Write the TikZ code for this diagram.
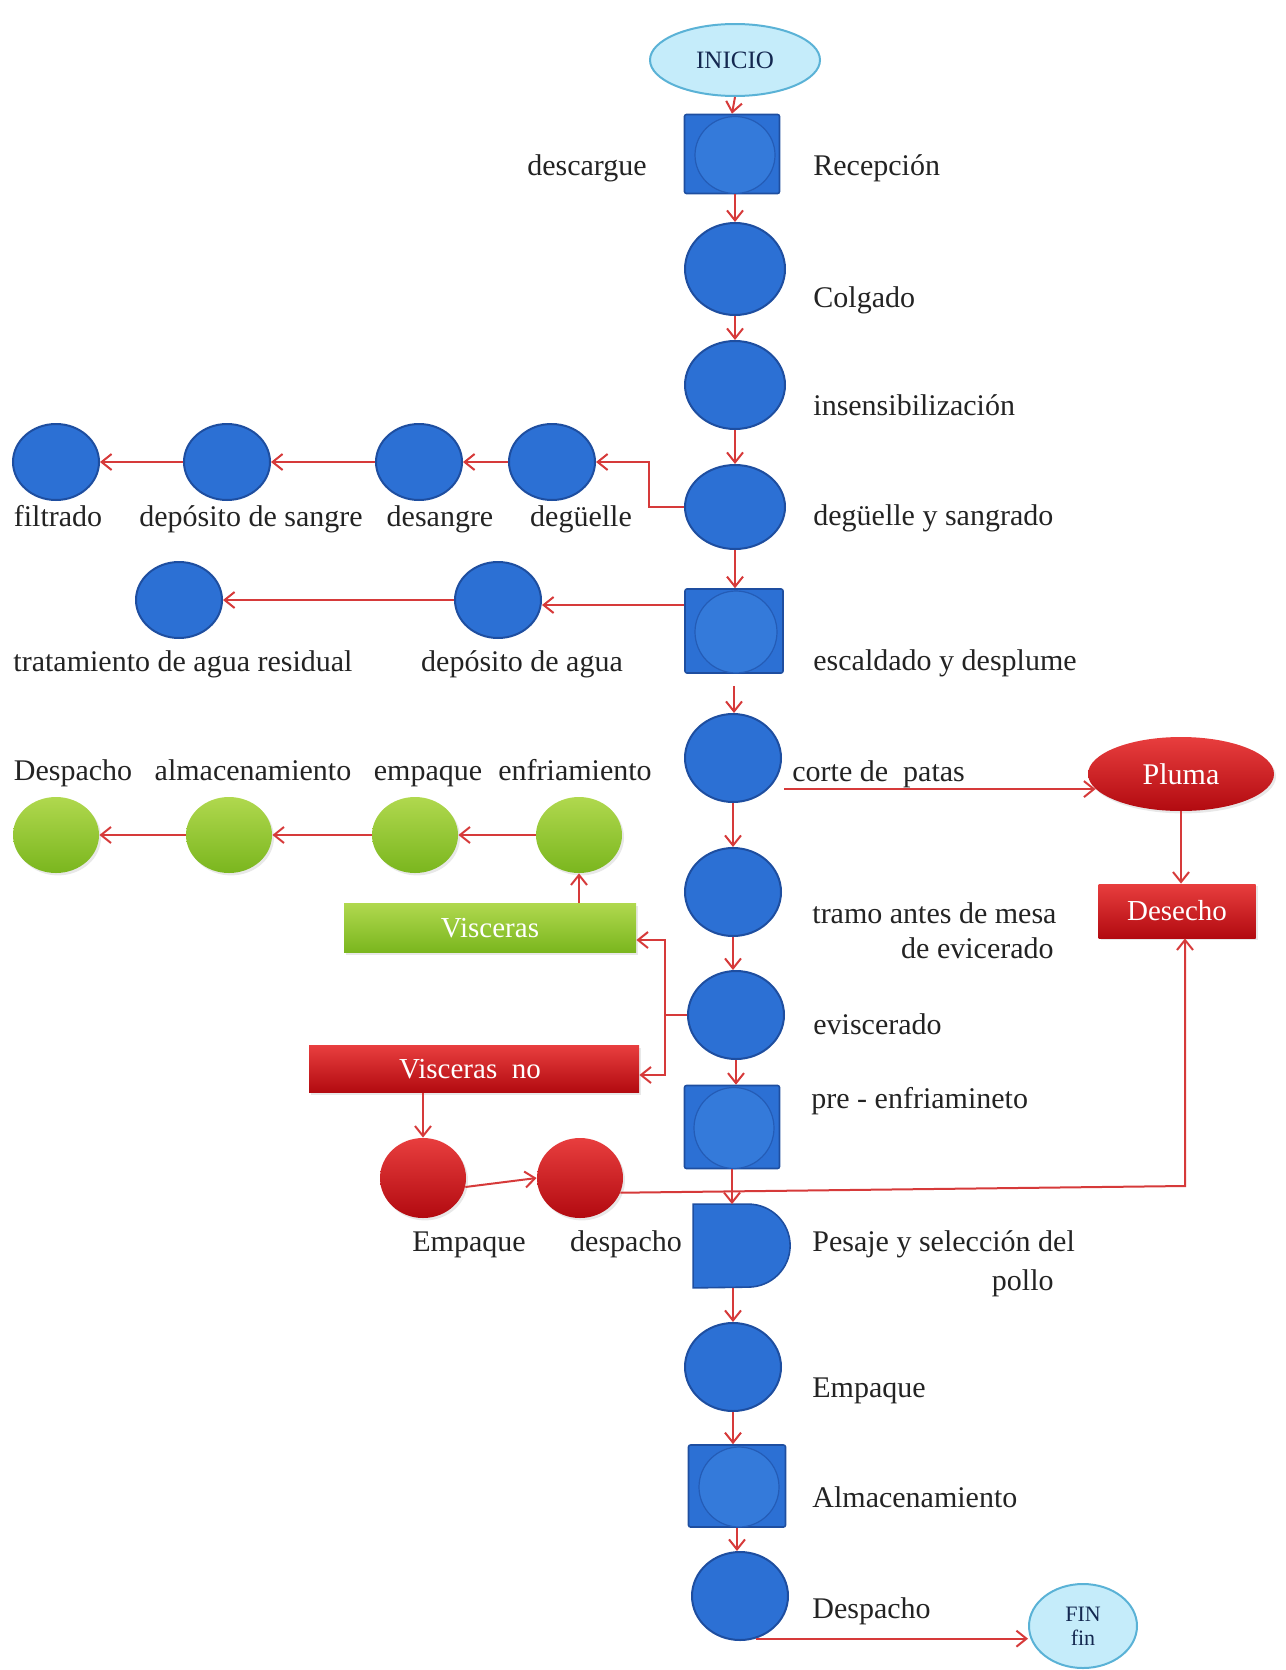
\documentclass[tikz,border=0pt]{standalone}
\usepackage{fontspec}
\setmainfont{Liberation Serif}
\usetikzlibrary{arrows.meta,shapes.geometric,calc,shadows}
\definecolor{bluF}{RGB}{44,112,212}
\definecolor{bluD}{RGB}{30,78,160}
\definecolor{bluI}{RGB}{52,122,218}
\definecolor{bluIB}{RGB}{36,92,182}
\definecolor{cyF}{RGB}{197,236,250}
\definecolor{cyD}{RGB}{90,178,214}
\definecolor{cyT}{RGB}{20,40,80}
\definecolor{lineR}{RGB}{214,58,58}
\definecolor{txtC}{RGB}{35,35,35}
\definecolor{grT}{RGB}{176,216,78}
\definecolor{grB}{RGB}{122,182,30}
\definecolor{rdT}{RGB}{232,62,62}
\definecolor{rdB}{RGB}{178,10,16}
\begin{document}
\begin{tikzpicture}[x=0.5pt,y=-0.5pt,
  arr/.style={draw=lineR, line width=1pt, -{Straight Barb[length=5pt,width=8pt,line width=1pt]}},
  ln/.style={draw=lineR, line width=1pt},
  lbl/.style={inner sep=0pt, font=\fontsize{15}{18}\selectfont, text=txtC, text height=10.5pt, text depth=3.2pt, yshift=-1.5pt},
  bcirc/.style={ellipse, fill=bluF, draw=bluD, line width=1pt, minimum width=48pt, minimum height=44pt, inner sep=0pt},
  scirc/.style={bcirc, minimum width=43pt, minimum height=38pt},
  bsq/.style={rectangle, fill=bluF, draw=bluD, line width=0.8pt, rounded corners=1pt, minimum width=48pt, minimum height=41pt, inner sep=0pt},
  inell/.style={ellipse, fill=bluI, draw=bluIB, line width=0.6pt, inner sep=0pt},
  cyell/.style={ellipse, fill=cyF, draw=cyD, line width=1pt, inner sep=0pt, text=cyT},
  shd/.style={drop shadow={opacity=0.18, shadow xshift=1pt, shadow yshift=-1.2pt}},
  gcirc/.style={ellipse, top color=grT, bottom color=grB, draw=none, minimum width=43pt, minimum height=38pt, inner sep=0pt, shd},
  rcirc/.style={ellipse, top color=rdT, bottom color=rdB, draw=none, minimum width=43pt, minimum height=40pt, inner sep=0pt, shd},
  gbox/.style={rectangle, top color=grT, bottom color=grB, draw=none, inner sep=0pt, text=white, font=\fontsize{14.5}{17}\selectfont, shd},
  rbox/.style={rectangle, top color=rdT, bottom color=rdB, draw=none, inner sep=0pt, text=white, font=\fontsize{14.5}{17}\selectfont, shd}
]
\useasboundingbox (0,0) rectangle (1285,1670);

% ---------- main column ----------
\node[cyell, minimum width=85pt, minimum height=36pt, font=\fontsize{12.5}{15}\selectfont] (ini) at (735,60) {INICIO};

\node[bsq, minimum width=47.5pt, minimum height=39.5pt] (rec) at (732,154) {};
\node[inell, minimum width=40pt, minimum height=38.5pt] (recI) at (735,155) {};

\node[bcirc, minimum width=50pt, minimum height=46pt] (col) at (735,269) {};
\node[bcirc, minimum width=50pt, minimum height=44pt] (ins) at (735,385) {};
\node[bcirc, minimum width=50pt, minimum height=42pt] (deg) at (735,507) {};

\node[bsq, minimum width=49pt, minimum height=42pt] (esc) at (734,631) {};
\node[inell, minimum width=41pt, minimum height=41pt] (escI) at (736,632) {};

\node[bcirc] (cor) at (733,758) {};
\node[bcirc] (tra) at (733,892) {};
\node[bcirc] (evi) at (736,1015) {};

\node[bsq, minimum width=47.5pt, minimum height=41.5pt] (pre) at (732,1127) {};
\node[inell, minimum width=40pt, minimum height=40.5pt] (preI) at (734,1128) {};

\node[minimum width=48.5pt, minimum height=41.5pt, inner sep=0pt] (pes) at (742,1246) {};
\draw[fill=bluF, draw=bluD, line width=0.8pt] (pes.south west) -- (pes.north west) -- ++(55,0)
  arc[start angle=90, end angle=-90, x radius=21pt, y radius=20.75pt] -- cycle;

\node[bcirc] (emp) at (733,1367) {};

\node[bsq, minimum width=48.5pt, minimum height=41pt] (alm) at (737,1486) {};
\node[inell, minimum width=40pt, minimum height=40pt] (almI) at (739,1487) {};

\node[bcirc] (des) at (740,1596) {};
\node[cyell, minimum width=54pt, minimum height=42pt, align=center, font=\fontsize{11}{12}\selectfont] (fin) at (1083,1626) {FIN\\fin};

% main labels
\node[lbl] (tdesc) at (587,165) {descargue};
\node[lbl, anchor=west] (trec) at (813,165) {Recepción};
\node[lbl, anchor=west] (tcol) at (813,297) {Colgado};
\node[lbl, anchor=west] (tins) at (813,405) {insensibilización};
\node[lbl, anchor=west] (tdeg) at (813,515) {degüelle y sangrado};
\node[lbl, anchor=west] (tesc) at (813,660) {escaldado y desplume};
\node[lbl, anchor=west] (tcor) at (792,771) {corte de\ \ patas};
\node[lbl, anchor=west] (ttra) at (812,913) {tramo antes de mesa};
\node[lbl, anchor=east] (ttra2) at (1054,948) {de evicerado};
\node[lbl, anchor=west] (tevi) at (813,1024) {eviscerado};
\node[lbl, anchor=west] (tpre) at (811,1098) {pre - enfriamineto};
\node[lbl, anchor=west] (tpes) at (812,1241) {Pesaje y selección del};
\node[lbl, anchor=east] (tpes2) at (1054,1280) {pollo};
\node[lbl, anchor=west] (temp) at (812,1387) {Empaque};
\node[lbl, anchor=west] (talm) at (812,1497) {Almacenamiento};
\node[lbl, anchor=west] (tdes) at (812,1608) {Despacho};

% ---------- blood row ----------
\node[scirc] (filt) at (56,462) {};
\node[scirc] (deps) at (227,462) {};
\node[scirc] (desa) at (419,462) {};
\node[scirc] (degu) at (552,462) {};
\node[lbl] (tfilt) at (58,516) {filtrado};
\node[lbl] (tdeps) at (251,516) {depósito de sangre};
\node[lbl] (tdesa) at (440,516) {desangre};
\node[lbl] (tdegu) at (581,516) {degüelle};

% ---------- water row ----------
\node[scirc] (trat) at (179,600) {};
\node[scirc] (depa) at (498,600) {};
\node[lbl] (ttrat) at (183,661) {tratamiento de agua residual};
\node[lbl] (tdepa) at (522,661) {depósito de agua};

% ---------- green row ----------
\node[gcirc] (gd) at (56,835) {};
\node[gcirc] (ga) at (229,835) {};
\node[gcirc] (ge) at (415,835) {};
\node[gcirc] (gf) at (579,835) {};
\node[lbl] (tgd) at (73,770) {Despacho};
\node[lbl] (tga) at (253,770) {almacenamiento};
\node[lbl] (tge) at (428,770) {empaque};
\node[lbl] (tgf) at (575,770) {enfriamiento};
\node[gbox, minimum width=146pt, minimum height=24.5pt] (visc) at (490,928) {Visceras};

% ---------- red part ----------
\node[rbox, minimum width=165pt, minimum height=23.5pt] (viscno) at (474,1069) {};
\node[inner sep=0pt, text=white, font=\fontsize{14.5}{17}\selectfont] (tviscno) at (470,1069) {Visceras\ \ no};
\node[rcirc] (re) at (423,1178) {};
\node[rcirc] (rd) at (580,1178) {};
\node[lbl] (tre) at (469,1241) {Empaque};
\node[lbl] (trd) at (626,1241) {despacho};

\node[ellipse, top color=rdT, bottom color=rdB, draw=none, minimum width=93pt, minimum height=37pt, inner sep=0pt, text=white, font=\fontsize{15}{17}\selectfont, shd] (plu) at (1181,774) {Pluma};
\node[rbox, minimum width=78.5pt, minimum height=27pt] (dese) at (1177,911) {Desecho};

% ---------- connectors ----------
\draw[arr] (ini.south) -- (rec.north);
\draw[arr] (col.north |- rec.south) -- (col.north);
\draw[arr] (col.south) -- (ins.north);
\draw[arr] (ins.south) -- (deg.north);
\draw[arr] (deg.south) -- (deg.south |- esc.north);
\draw[arr] ([yshift=-6pt]esc.south) -- (esc.south |- cor.north);
\draw[arr] (cor.south) -- (cor.south |- tra.north);
\draw[arr] (tra.south) -- (tra.south |- evi.north);
\draw[arr] (evi.south) -- (evi.south |- pre.north);
\draw[arr] (pre.south) -- (pre.south |- pes.north);
\draw[arr] (emp.north |- pes.south) -- (emp.north);
\draw[arr] (emp.south) -- (emp.south |- alm.north);
\draw[arr] (alm.south) -- (alm.south |- des.north);

% blood branch
\draw[arr] (deg.west) -- ++(-35,0) |- (degu.east);
\draw[arr] (degu.west) -- (desa.east);
\draw[arr] (desa.west) -- (deps.east);
\draw[arr] (deps.west) -- (filt.east);

% water branch
\draw[arr] (esc.west |- 0,605) -- (depa.east |- 0,605);
\draw[arr] (depa.west) -- (trat.east);

% feather
\draw[arr] ([xshift=1pt]cor.east |- plu.190) -- (plu.190);
\draw[arr] (plu.south) -- (plu.south |- dese.north);

% viscera branches
\draw[ln] (evi.west) -- ++(-22,0) coordinate (ej);
\draw[arr] (ej) |- ([yshift=-6pt]visc.east);
\draw[arr] (ej) |- ([yshift=-3pt]viscno.east);
\draw[arr] (visc.north -| gf) -- (gf.south);
\draw[arr] (gf.west) -- (ge.east);
\draw[arr] (ge.west) -- (ga.east);
\draw[arr] (ga.west) -- (gd.east);

\draw[arr] (viscno.south -| re) -- (re.north);
\draw[arr] (re.-12) -- (rd.west);
\coordinate (dcorner) at (1185,1186);
\draw[arr] (rd.-20) -- (dcorner) -- (dcorner |- dese.south);

% end
\draw[arr] (des.-70) -- (des.-70 -| fin.west);
\end{tikzpicture}
\end{document}
